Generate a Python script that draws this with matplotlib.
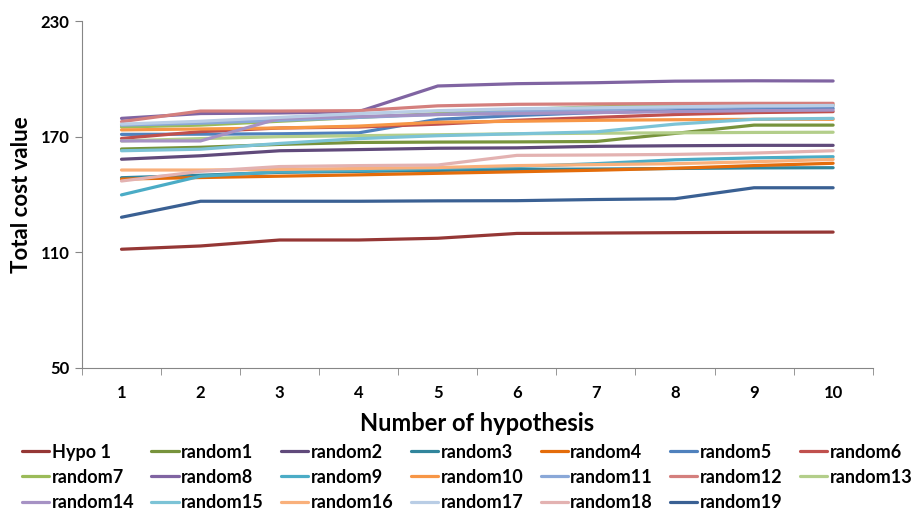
import matplotlib
matplotlib.use('Agg')
import matplotlib.pyplot as plt
from matplotlib.ticker import FixedLocator

plt.rcParams['font.family'] = ['Lato', 'DejaVu Sans']
plt.rcParams['font.weight'] = 'bold'

# hypothesis numbers on the x axis
hypotheses = [1, 2, 3, 4, 5, 6, 7, 8, 9, 10]

# series values
hypo1 = [111.6, 113.3, 116.4, 116.4, 117.3, 119.8, 120.0, 120.2, 120.4, 120.5]
random1 = [163.6, 164.5, 166.0, 167.0, 167.2, 167.3, 167.5, 171.7, 176.0, 176.0]
random2 = [158.3, 160.1, 162.7, 163.3, 164.0, 164.2, 165.0, 165.3, 165.5, 165.5]
random3 = [148.7, 150.0, 151.5, 152.0, 152.5, 153.0, 153.2, 153.5, 153.8, 153.9]
random4 = [148.0, 148.8, 149.5, 150.2, 151.0, 151.8, 152.6, 153.6, 155.0, 156.2]
random5 = [171.2, 171.3, 171.5, 172.0, 179.0, 181.0, 182.5, 183.5, 184.2, 184.7]
random6 = [169.1, 172.6, 174.5, 175.0, 176.5, 178.5, 180.0, 181.5, 182.5, 183.0]
random7 = [175.0, 176.0, 178.0, 180.0, 182.0, 184.0, 185.5, 186.0, 186.5, 186.5]
random8 = [179.5, 182.0, 182.3, 183.0, 196.3, 197.5, 198.0, 198.8, 199.0, 198.9]
random9 = [139.8, 149.5, 151.8, 152.5, 153.5, 154.5, 156.0, 158.0, 159.0, 159.6]
random10 = [173.5, 174.0, 174.5, 175.5, 177.5, 178.0, 178.5, 178.8, 179.0, 179.0]
random11 = [176.0, 177.0, 178.5, 180.0, 181.5, 183.0, 184.0, 185.0, 185.5, 186.0]
random12 = [177.8, 183.3, 183.3, 183.5, 186.0, 186.8, 187.0, 187.2, 187.3, 187.3]
random13 = [167.8, 169.0, 170.0, 170.5, 171.0, 171.5, 171.8, 172.0, 172.2, 172.3]
random14 = [167.8, 167.8, 179.5, 180.5, 181.5, 182.0, 182.5, 183.0, 183.5, 183.8]
random15 = [162.7, 163.5, 166.5, 169.0, 170.5, 171.5, 172.5, 176.5, 179.0, 179.5]
random16 = [152.7, 152.7, 153.0, 153.5, 154.0, 155.0, 155.5, 156.0, 157.0, 158.2]
random17 = [176.5, 178.0, 180.0, 182.0, 183.5, 184.5, 185.0, 185.5, 186.0, 186.2]
random18 = [147.0, 152.0, 154.5, 155.0, 155.3, 160.3, 160.5, 160.8, 161.5, 162.7]
random19 = [128.2, 136.5, 136.5, 136.5, 136.7, 136.8, 137.4, 137.8, 143.5, 143.5]

names = ['Hypo 1'] + ['random%d' % i for i in range(1, 20)]
series = [hypo1, random1, random2, random3, random4, random5, random6, random7,
          random8, random9, random10, random11, random12, random13, random14,
          random15, random16, random17, random18, random19]
colors = ['#953735', '#77933C', '#604A7B', '#31859C', '#E46C0A', '#4F81BD',
          '#C0504D', '#9BBB59', '#8064A2', '#4BACC6', '#F79646', '#8AA8D8',
          '#D47F7D', '#B3CE8A', '#A692C4', '#7CC3D6', '#F9B07B', '#B9CDE5',
          '#E3B2B1', '#3A6093']

fig = plt.figure(figsize=(9.21, 5.13), dpi=100)
ax = fig.add_axes([0.089, 0.2827, 0.8585, 0.6763])

handles = []
for vals, name, c in zip(series, names, colors):
    h, = ax.plot(hypotheses, vals, color=c, lw=2.3, label=name,
                 solid_capstyle='round', solid_joinstyle='round')
    handles.append(h)

ax.set_xlim(0.5, 10.5)
ax.set_ylim(50, 230)
ax.set_yticks([50, 110, 170, 230])
ax.set_xticks(hypotheses)
ax.xaxis.set_minor_locator(FixedLocator([i + 0.5 for i in range(0, 11)]))
ax.tick_params(axis='x', which='major', length=0, pad=12, labelsize=12)
ax.tick_params(axis='x', which='minor', length=5, color='#868686', direction='out')
ax.tick_params(axis='y', length=5, color='#868686', direction='out', labelsize=12, pad=4)

for s in ['top', 'right']:
    ax.spines[s].set_visible(False)
for s in ['left', 'bottom']:
    ax.spines[s].set_color('#868686')

ax.set_ylabel('Total cost value', fontsize=16, fontweight='bold', labelpad=6)
ax.set_xlabel('Number of hypothesis', fontsize=17, fontweight='bold', labelpad=8)

# legend rows read left to right, matplotlib fills by column
ncol = 7
order = []
for j in range(ncol):
    for r in range(3):
        k = j + r * ncol
        if k < len(handles):
            order.append(k)
leg = fig.legend([handles[k] for k in order], [names[k] for k in order],
                 ncol=ncol, loc='lower left', bbox_to_anchor=(0.012, -0.017),
                 frameon=False, fontsize=13, handlelength=1.5, handletextpad=0.15,
                 columnspacing=0.95, labelspacing=0.45, borderaxespad=0.2)
for t in leg.get_texts():
    t.set_fontweight('bold')

fig.savefig('out.png', dpi=100)
